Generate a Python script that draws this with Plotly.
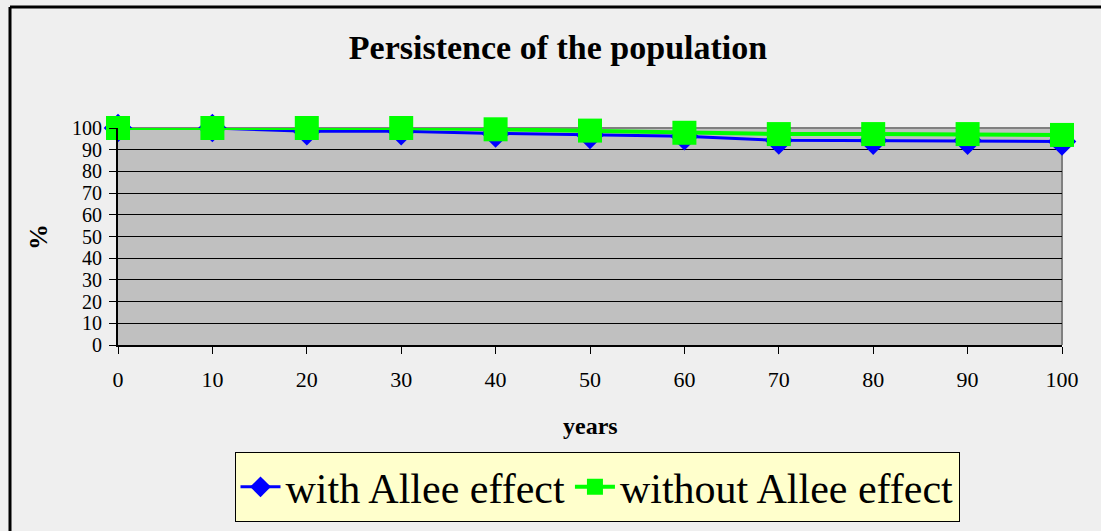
import plotly.graph_objects as go

# ---- data ----
years = [0, 10, 20, 30, 40, 50, 60, 70, 80, 90, 100]
with_allee = [100, 100, 98.5, 98.5, 97.5, 96.8, 96.2, 94.3, 94.2, 94.2, 93.8]
without_allee = [100, 100, 100, 100, 99.4, 98.8, 97.8, 97.2, 97.2, 97.2, 96.8]
y_ticks = [0, 10, 20, 30, 40, 50, 60, 70, 80, 90, 100]
series_names = ["with Allee effect", "without Allee effect"]

# ---- layout geometry (pixels) ----
W, H = 1101, 531
L, R, T, B = 118, 1062, 128, 345
PW, PH = R - L, B - T


def px(x):
    return (x - L) / PW


def py(y):
    return (B - y) / PH


FONT = "Liberation Serif, Times New Roman, serif"

fig = go.Figure()
fig.add_trace(go.Scatter(
    x=years, y=with_allee, name=series_names[0], mode="lines+markers",
    line=dict(color="#0000FF", width=3),
    marker=dict(symbol="diamond", size=22, color="#0000FF"),
    cliponaxis=False,
))
fig.add_trace(go.Scatter(
    x=years, y=without_allee, name=series_names[1], mode="lines+markers",
    line=dict(color="#00FF00", width=4),
    marker=dict(symbol="square", size=24, color="#00FF00"),
    cliponaxis=False,
))

fig.update_layout(
    width=W, height=H, autosize=False,
    margin=dict(l=L, r=W - R, t=T, b=H - B, pad=0),
    paper_bgcolor="#EFEFEF",
    plot_bgcolor="#C0C0C0",
    font=dict(family=FONT, color="black"),
    showlegend=True,
    title=dict(
        text="<b>Persistence of the population</b>",
        font=dict(family=FONT, size=34, color="black"),
        x=558 / W, xref="container", xanchor="center",
        y=1 - 47 / H, yref="container", yanchor="middle",
    ),
    legend=dict(
        orientation="h",
        x=597 / W, xref="container", xanchor="center",
        y=9 / H, yref="container", yanchor="bottom",
        bgcolor="#FFFFCC", bordercolor="black", borderwidth=1,
        font=dict(family=FONT, size=42, color="black"),
        itemwidth=40,
        tracegroupgap=0,
    ),
    xaxis=dict(
        range=[0, 100], tickmode="array", tickvals=years,
        ticktext=[str(v) for v in years],
        showgrid=False, zeroline=False,
        showline=True, linecolor="black", linewidth=2,
        ticks="outside", ticklen=7, tickcolor="black", tickwidth=1,
        tickfont=dict(family=FONT, size=22, color="black"),
        ticklabelstandoff=7,
    ),
    yaxis=dict(
        range=[0, 100], tickmode="array", tickvals=y_ticks,
        ticktext=[str(v) for v in y_ticks],
        showgrid=True, gridcolor="black", gridwidth=1, zeroline=False,
        showline=True, linecolor="black", linewidth=2,
        ticks="outside", ticklen=7, tickcolor="black", tickwidth=1,
        tickfont=dict(family=FONT, size=20, color="black"),
        ticklabelstandoff=3,
    ),
    shapes=[
        # plot-area border (gray, top and right)
        dict(type="line", xref="paper", yref="paper", x0=0, x1=1, y0=1, y1=1,
             line=dict(color="#808080", width=2), layer="below"),
        dict(type="line", xref="paper", yref="paper", x0=1, x1=1, y0=0, y1=1,
             line=dict(color="#808080", width=2), layer="below"),
        # outer chart border (top and left)
        dict(type="line", xref="paper", yref="paper", x0=px(10), x1=px(W + 5),
             y0=py(7), y1=py(7), line=dict(color="black", width=3)),
        dict(type="line", xref="paper", yref="paper", x0=px(10), x1=px(10),
             y0=py(7), y1=py(H + 5), line=dict(color="black", width=3)),
    ],
    annotations=[
        dict(text="<b>years</b>", xref="paper", yref="paper",
             x=px(590), y=py(426), xanchor="center", yanchor="middle",
             showarrow=False, font=dict(family=FONT, size=24, color="black")),
        dict(text="<b>%</b>", xref="paper", yref="paper",
             x=px(38), y=py(237), xanchor="center", yanchor="middle",
             textangle=-90,
             showarrow=False, font=dict(family=FONT, size=26, color="black")),
    ],
)

fig.write_html(
    "out.html",
    config={"displayModeBar": False},
    post_script="document.body.style.margin='0';document.body.style.overflow='hidden';",
)
